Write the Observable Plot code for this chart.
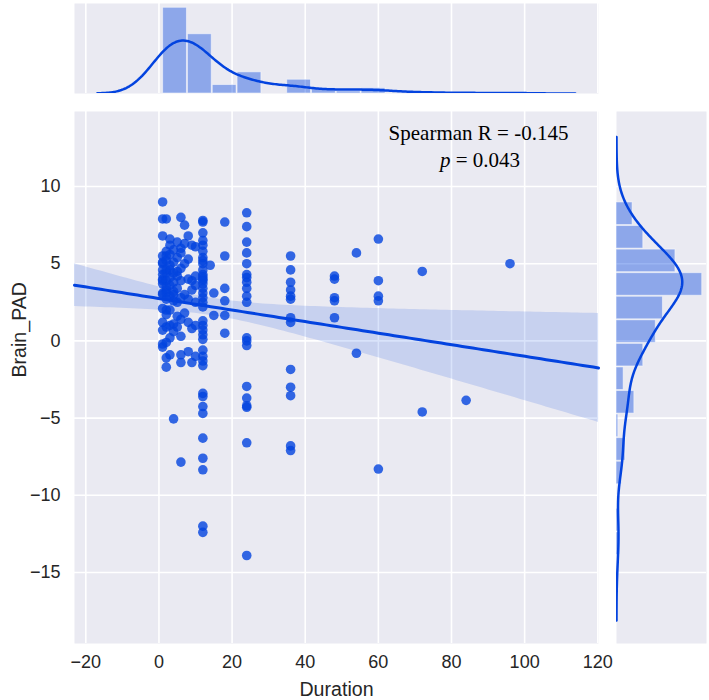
<!DOCTYPE html>
<html><head><meta charset="utf-8">
<script src="https://cdn.jsdelivr.net/npm/d3@7"></script>
<script src="https://cdn.jsdelivr.net/npm/@observablehq/plot@0.6"></script>
<style>
body{margin:0;background:#fff;}
#chart{position:relative;width:709px;height:700px;overflow:hidden;background:#fff;}
#chart svg{position:absolute;overflow:visible;}
</style></head><body><div id="chart"></div>
<script>
// ---- data ----
const durationGroups = [1,2,3,4,5,6,7,8,9,10,12,14,15,18,24,36,48,54,60,72,84,96];
const brainPadGroups = [
  [9.0,7.9,6.8,5.5,5.1,5.0,4.6,4.3,3.9,4.0,3.7,3.1,3.0,2.1,1.2,0.7,-0.2,-0.4],
  [7.9,5.8,5.5,5.2,4.6,4.4,3.9,3.3,3.5,3.1,2.7,2.0,1.7,0.9,-0.1,-1.1,-1.7],
  [6.6,6.2,5.6,4.9,4.6,4.1,3.6,2.9,2.0,1.0,0.2,-0.9],
  [5.9,5.1,4.4,3.8,3.2,3.0,2.6,1.1,0.6,-5.05],
  [6.4,5.4,4.5,4.2,3.4,2.5,1.6,0.9],
  [8.0,6.0,5.7,4.7,3.9,2.8,1.4,0.3,-0.9,-1.4,-7.85],
  [7.5,6.3,5.0,3.0,1.8],
  [6.8,5.3,4.0,2.7,1.2,-0.7],
  [6.2,3.9,3.3,0.8,-1.4],
  [6.1,4.2,3.6,2.5,1.0,-1.0],
  [7.8,7.7,7.0,6.5,6.2,5.8,5.4,5.2,5.0,4.6,4.3,4.15,4.0,3.9,3.7,3.4,3.1,2.8,2.5,2.2,1.3,1.0,0.7,0.4,0.1,-0.6,-1.0,-1.3,-1.6,-3.4,-3.6,-4.25,-4.7,-6.3,-7.6,-8.35,-12.0,-12.4],
  [4.9],
  [3.1,1.65],
  [7.7,5.5,3.4,2.6,1.65,0.5],
  [8.3,7.4,6.4,5.7,5.0,4.3,4.1,3.8,3.4,2.9,2.5,0.2,0.0,-0.3,-2.95,-3.7,-4.2,-4.3,-6.6,-13.9],
  [5.5,4.6,3.8,3.3,2.9,2.7,1.5,1.2,-1.85,-3.0,-3.55,-6.8,-7.1],
  [4.2,4.0,2.8,2.6,1.5],
  [5.7,-0.8],
  [6.6,3.9,2.9,2.6,-8.3],
  [4.5,-4.6],
  [-3.85],
  [5.0]
];
const xTicks = [-20,0,20,40,60,80,100,120];
const yTicks = [-15,-10,-5,0,5,10];
const xDomain = [-23.1, 120.2];
const yDomain = [-19.6, 14.86];
const xBinCount = 14;
const yBinCount = 15;
const statLine = "Spearman R = -0.145";
const pLetter = "p";
const pValue = " = 0.043";
const xLabel = "Duration";
const yLabel = "Brain_PAD";

// ---- styling ----
const BLUE = "#0343df";
const BG = "#eaeaf2";
const FONT = "'Liberation Sans', Arial, sans-serif";
const SERIF = "'Liberation Serif', 'Times New Roman', serif";
const TXT = "#262626";

// ---- derived tables ----
const points = durationGroups.flatMap((d, i) => brainPadGroups[i].map(v => ({duration: d, pad: v})));
const xs = points.map(p => p.duration), ys = points.map(p => p.pad);
const n = points.length;

// OLS fit + 95% confidence band
const mx = d3.mean(xs), my = d3.mean(ys);
const sxx = d3.sum(xs, x => (x - mx) ** 2);
const sxy = d3.sum(points, p => (p.duration - mx) * (p.pad - my));
const slope = sxy / sxx, intercept = my - slope * mx;
const sres = Math.sqrt(d3.sum(points, p => (p.pad - (intercept + slope * p.duration)) ** 2) / (n - 2));
const tcrit = 1.972;
const fitGrid = d3.range(101).map(i => xDomain[0] + (xDomain[1] - xDomain[0]) * i / 100);
const fit = fitGrid.map(x => {
  const yh = intercept + slope * x;
  const se = sres * Math.sqrt(1 / n + (x - mx) ** 2 / sxx);
  return {x, y: yh, lo: yh - tcrit * se, hi: yh + tcrit * se};
});

function kde(values) {
  const bw = d3.deviation(values) * Math.pow(values.length, -0.2);
  const [lo, hi] = d3.extent(values);
  return d3.range(300).map(i => {
    const g = lo - 3 * bw + (hi - lo + 6 * bw) * i / 299;
    const d = d3.mean(values, v => Math.exp(-0.5 * ((g - v) / bw) ** 2)) / (bw * Math.sqrt(2 * Math.PI));
    return {v: g, d};
  });
}
function hist(values, k) {
  const [lo, hi] = d3.extent(values);
  const w = (hi - lo) / k;
  const out = d3.range(k).map(i => ({x0: lo + i * w, x1: lo + (i + 1) * w, count: 0}));
  values.forEach(v => { out[Math.min(k - 1, Math.floor((v - lo) / w + 1e-9))].count++; });
  out.forEach(b => b.density = b.count / (values.length * w));
  return out;
}
const xHist = hist(xs, xBinCount), yHist = hist(ys, yBinCount);
const xKde = kde(xs), yKde = kde(ys);
const xMargMax = Math.max(d3.max(xHist, b => b.density), d3.max(xKde, k => k.d)) * 1.05;
const yMargMax = Math.max(d3.max(yHist, b => b.density), d3.max(yKde, k => k.d)) * 1.05;

const minus = d => d < 0 ? "\u2212" + Math.abs(d) : String(d);
const chart = document.getElementById("chart");
function place(svg, left, topPx) { svg.style.left = left + "px"; svg.style.top = topPx + "px"; chart.appendChild(svg); }

// ---- main joint plot ----
const mainPlot = Plot.plot({
  width: 600, height: 600,
  marginLeft: 74, marginRight: 2, marginTop: 11, marginBottom: 57,
  style: {background: "transparent", fontFamily: FONT, fontSize: "18px", color: TXT},
  x: {domain: xDomain, ticks: xTicks, tickSize: 0, tickPadding: 12, tickFormat: minus, label: null},
  y: {domain: yDomain, ticks: yTicks, tickSize: 0, tickPadding: 14, tickFormat: minus, label: null},
  marks: [
    Plot.frame({fill: BG, stroke: null}),
    Plot.gridX(xTicks, {stroke: "white", strokeOpacity: 1, strokeWidth: 1.6}),
    Plot.gridY(yTicks, {stroke: "white", strokeOpacity: 1, strokeWidth: 1.6}),
    Plot.areaY(fit, {x: "x", y1: "lo", y2: "hi", fill: BLUE, fillOpacity: 0.15}),
    Plot.dot(points, {x: "duration", y: "pad", r: 4.8, fill: BLUE, fillOpacity: 0.8, stroke: null}),
    Plot.line(fit, {x: "x", y: "y", stroke: BLUE, strokeWidth: 3}),
    Plot.text([statLine], {frameAnchor: "top-left", dx: 404, dy: 22, lineAnchor: "middle", fontFamily: SERIF, fontSize: 21, fill: "black", textAnchor: "middle"}),
    Plot.text([pLetter], {frameAnchor: "top-left", dx: 376, dy: 49, lineAnchor: "middle", fontFamily: SERIF, fontSize: 21, fontStyle: "italic", fill: "black", textAnchor: "end"}),
    Plot.text([pValue], {frameAnchor: "top-left", dx: 376, dy: 49, lineAnchor: "middle", fontFamily: SERIF, fontSize: 21, fill: "black", textAnchor: "start"}),
    Plot.text([xLabel], {frameAnchor: "bottom", dy: 46, lineAnchor: "middle", fontSize: 19.6, fill: TXT}),
    Plot.text([yLabel], {frameAnchor: "left", dx: -55, rotate: -90, fontSize: 19.6, fill: TXT})
  ]
});
place(mainPlot, 0, 100);

// ---- top marginal ----
const topPlot = Plot.plot({
  width: 600, height: 100,
  marginLeft: 74, marginRight: 2, marginTop: 3, marginBottom: 7,
  style: {background: "transparent"},
  x: {domain: xDomain, axis: null},
  y: {domain: [0, xMargMax], axis: null},
  marks: [
    Plot.frame({fill: BG, stroke: null}),
    Plot.gridX(xTicks, {stroke: "white", strokeOpacity: 1, strokeWidth: 1.6}),
    Plot.rectY(xHist, {x1: "x0", x2: "x1", y: "density", fill: BLUE, fillOpacity: 0.4, stroke: "white", strokeOpacity: 0.5, strokeWidth: 1, insetLeft: 0.5, insetRight: 0.5}),
    Plot.line(xKde, {x: "v", y: "d", stroke: BLUE, strokeWidth: 2.5, clip: true})
  ]
});
place(topPlot, 0, 0);

// ---- right marginal ----
const rightPlot = Plot.plot({
  width: 99, height: 600,
  marginLeft: 6, marginRight: 3, marginTop: 11, marginBottom: 57,
  style: {background: "transparent"},
  x: {domain: [0, yMargMax], axis: null},
  y: {domain: yDomain, axis: null},
  marks: [
    Plot.frame({fill: BG, stroke: null}),
    Plot.gridY(yTicks, {stroke: "white", strokeOpacity: 1, strokeWidth: 1.6}),
    Plot.rectX(yHist, {y1: "x0", y2: "x1", x: "density", fill: BLUE, fillOpacity: 0.4, stroke: "white", strokeOpacity: 0.5, strokeWidth: 1, insetTop: 0.5, insetBottom: 0.5}),
    Plot.line(yKde, {x: "d", y: "v", stroke: BLUE, strokeWidth: 2.5, clip: true})
  ]
});
place(rightPlot, 610, 100);
</script></body></html>
